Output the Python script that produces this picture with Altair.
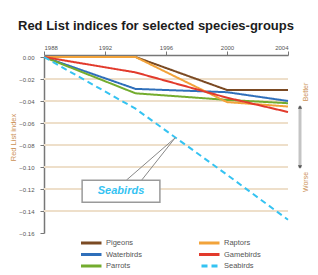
import altair as alt
import pandas as pd

# ---- data ----
years = [1988, 1994, 2000, 2004]
series_names = ["Pigeons", "Waterbirds", "Parrots", "Raptors", "Gamebirds", "Seabirds"]
pigeons = [0.0, 0.0, -0.030, -0.030]
waterbirds = [0.0, -0.029, -0.032, -0.040]
parrots = [0.0, -0.033, -0.039, -0.042]
raptors = [0.0, 0.0, -0.041, -0.045]
gamebirds = [0.0, -0.014, -0.037, -0.050]
seabirds = [0.0, -0.047, -0.107, -0.148]
series_values = [pigeons, waterbirds, parrots, raptors, gamebirds, seabirds]
colors = ["#7b4a23", "#2f6fba", "#73ac2e", "#f2a33a", "#e23a2c", "#35c3f2"]
dashes = [[1, 0], [1, 0], [1, 0], [1, 0], [1, 0], [6, 4]]
x_ticks = [1988, 1992, 1996, 2000, 2004]
y_ticks = [0.0, -0.02, -0.04, -0.06, -0.08, -0.10, -0.12, -0.14, -0.16]
grid_vals = [-0.02, -0.04, -0.06, -0.08, -0.10, -0.12, -0.14]

# callout (annotation) in data coordinates
callout_label = "Seabirds"
callout_box = {"x": 1990.5, "x2": 1995.6, "y": -0.112, "y2": -0.132}
callout_tip = (1996.6, -0.0735)
callout_base = [1993.4, 1994.4]
callout_text_pos = (1993.05, -0.1222)

rows = []
for name, vals in zip(series_names, series_values):
    for yr, v in zip(years, vals):
        rows.append({"series": name, "year": yr, "value": v})
df = pd.DataFrame(rows)

FONT = "Liberation Sans"
xscale = alt.Scale(domain=[1988, 2004], nice=False, zero=False)
yscale = alt.Scale(domain=[-0.16, 0.0], nice=False, zero=False)

x_axis = alt.Axis(orient="top", values=x_ticks, format="d", title=None,
                  labelFontSize=6, labelColor="#555555", labelFont=FONT,
                  tickColor="#777777", domainColor="#777777", domainWidth=1.5,
                  tickSize=4, labelPadding=1, grid=False, offset=2)
y_axis = alt.Axis(values=y_ticks, format=".2f", title="Red List index",
                  labelFontSize=6, labelColor="#555555", labelFont=FONT,
                  tickColor="#777777", domainColor="#777777", domainWidth=1.5,
                  tickSize=4, labelPadding=6, grid=False,
                  titleFont=FONT, titleFontSize=7.5, titleFontWeight="normal",
                  titleColor="#cc9155", titleX=-31, titleY=80,
                  titleAngle=270, titleAlign="center", titleBaseline="middle")


def X(field):
    return alt.X(field, scale=xscale, axis=x_axis)


def Y(field):
    return alt.Y(field, scale=yscale, axis=y_axis)


legend = alt.Legend(
    orient="none", legendX=37, legendY=181, columns=2, title=None,
    symbolType="M-2.8,0H2.8", symbolSize=100, symbolStrokeWidth=3,
    labelFontSize=7.5, labelColor="#555555", labelFont=FONT,
    labelOffset=12, columnPadding=57, rowPadding=1.5, padding=0, clipHeight=10,
)

grid_df = pd.DataFrame({"value": grid_vals, "year": [1988] * len(grid_vals),
                        "year2": [2004] * len(grid_vals)})
grid = alt.Chart(grid_df).mark_rule(color="#eedfca", strokeWidth=2).encode(
    x=X("year:Q"), x2="year2:Q", y=Y("value:Q"),
)

lines = alt.Chart(df).mark_line(strokeWidth=2).encode(
    x=X("year:Q"),
    y=Y("value:Q"),
    color=alt.Color("series:N", scale=alt.Scale(domain=series_names, range=colors), legend=legend),
    strokeDash=alt.StrokeDash("series:N", scale=alt.Scale(domain=series_names, range=dashes), legend=legend),
    order=alt.Order("year:Q"),
)

pointer_df = pd.DataFrame({
    "year": callout_base, "value": [callout_box["y"]] * 2,
    "year2": [callout_tip[0]] * 2, "value2": [callout_tip[1]] * 2,
})
pointer = alt.Chart(pointer_df).mark_rule(color="#888888", strokeWidth=1).encode(
    x=X("year:Q"), x2="year2:Q", y=Y("value:Q"), y2="value2:Q",
)

box_df = pd.DataFrame([{"year": callout_box["x"], "year2": callout_box["x2"],
                        "value": callout_box["y"], "value2": callout_box["y2"]}])
box = alt.Chart(box_df).mark_rect(fill="white", stroke="#9a9a9a", strokeWidth=1.5).encode(
    x=X("year:Q"), x2="year2:Q", y=Y("value:Q"), y2="value2:Q",
)

label_df = pd.DataFrame([{"year": callout_text_pos[0], "value": callout_text_pos[1], "t": callout_label}])
label = alt.Chart(label_df).mark_text(
    font=FONT, fontSize=11, fontWeight="bold", fontStyle="italic", color="#35c3f2",
    align="center", baseline="middle",
).encode(x=X("year:Q"), y=Y("value:Q"), text="t:N")

side_df = pd.DataFrame({"t": ["Better", "Worse"], "py": [35, 125]})
side = alt.Chart(side_df).mark_text(
    font=FONT, fontSize=7, color="#cc9155", angle=270, align="center", baseline="middle",
).encode(x=alt.value(262), y=alt.Y("py:Q", scale=None, axis=None), text="t:N")

arrow = alt.Chart(pd.DataFrame({"a": [0]})).mark_rule(color="#c4c4c4", strokeWidth=3).encode(
    x=alt.value(256), y=alt.value(49), y2=alt.value(111)
)
heads_df = pd.DataFrame({"py": [50, 110], "shape": ["triangle-up", "triangle-down"]})
heads = alt.Chart(heads_df).mark_point(filled=True, color="#555555", size=18, opacity=1).encode(
    x=alt.value(256), y=alt.Y("py:Q", scale=None, axis=None),
    shape=alt.Shape("shape:N", scale=None),
)

chart = alt.layer(grid, lines, pointer, box, label, side, arrow, heads).properties(
    width=244, height=176,
    autosize=alt.AutoSizeParams(type="none"),
    padding={"left": 36, "top": 49, "right": 22, "bottom": 37},
    background="white",
    title=alt.TitleParams(
        text="Red List indices for selected species-groups", anchor="start", frame="group",
        dx=-26, offset=11, font=FONT, fontSize=13, fontWeight="bold", color="#1c1c1c",
    ),
).configure_view(stroke=None)

chart.save("out.html", embed_options={"renderer": "svg", "actions": False})
